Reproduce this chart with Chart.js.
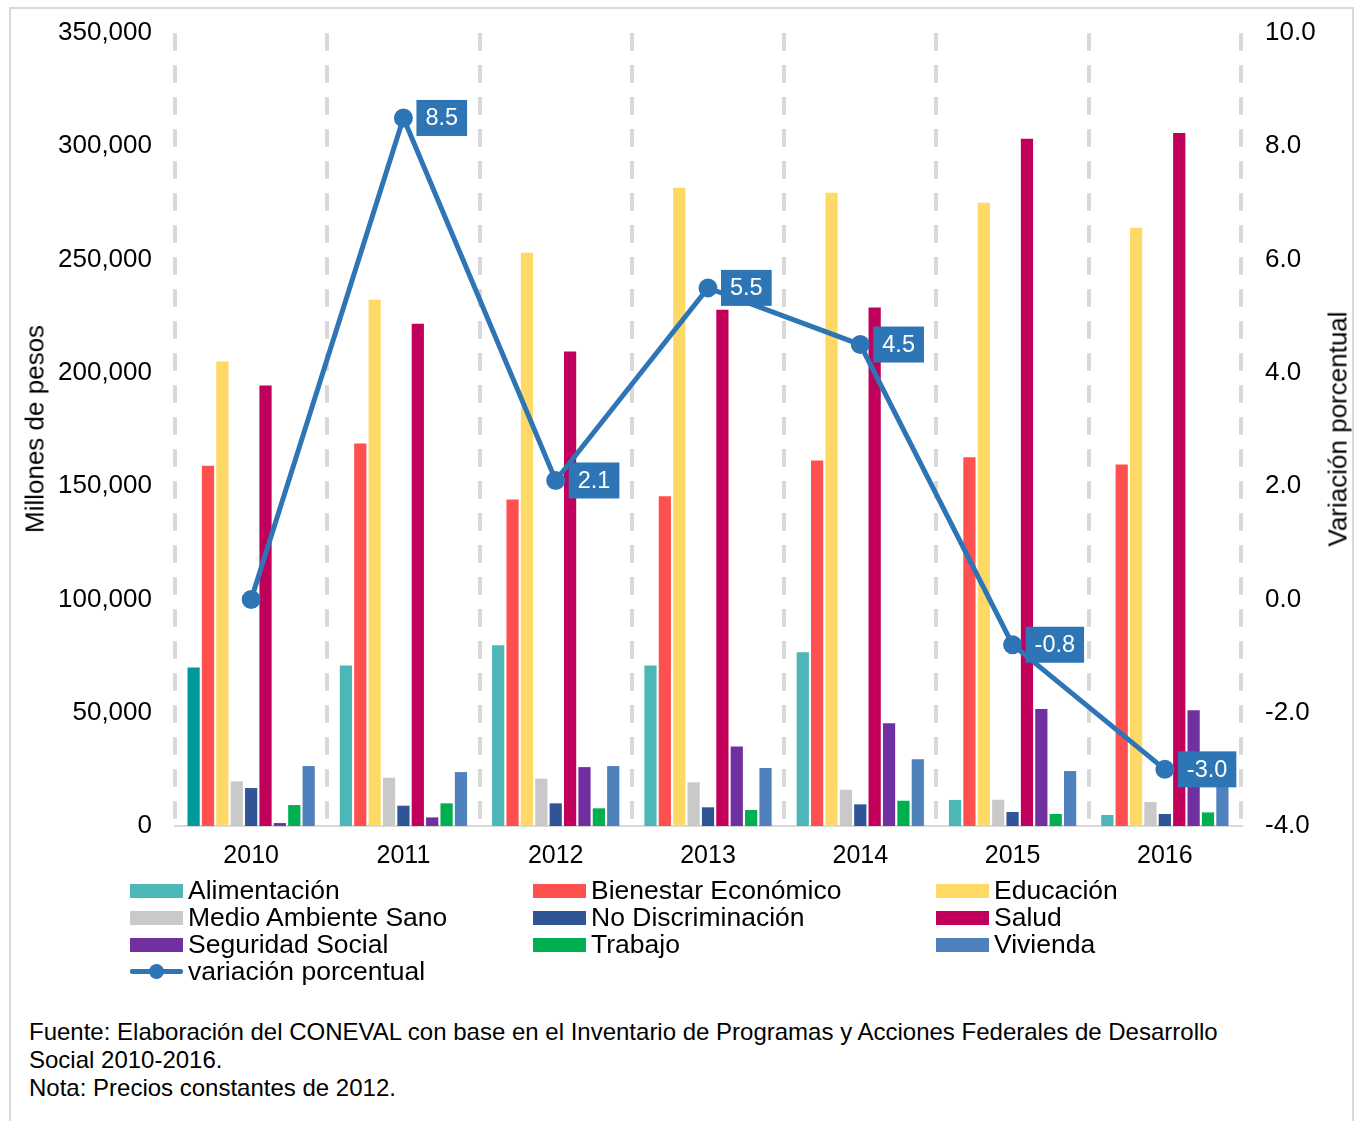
<!DOCTYPE html>
<html><head><meta charset="utf-8">
<script src="https://cdn.jsdelivr.net/npm/chart.js@4"></script>
<style>
html,body{margin:0;padding:0;background:#fff;width:1360px;height:1121px;overflow:hidden;font-family:"Liberation Sans",Arial,sans-serif;}
#frame{position:absolute;left:9px;top:7px;width:1345px;height:1130px;border:2px solid #d9d9d9;box-sizing:border-box;}
#wrap{position:absolute;left:0;top:0;width:1360px;height:880px;}
#legend{position:absolute;left:0;top:877px;width:1360px;height:110px;font-size:26.5px;color:#000;}
.li{position:absolute;height:27px;line-height:27px;white-space:nowrap;}
.sw{position:absolute;left:0;top:7px;width:53px;height:14px;}
.lt{position:absolute;left:58px;top:0;}
#note{position:absolute;left:29px;top:1018px;font-size:24px;line-height:28px;color:#000;white-space:nowrap;}
.ytitle{position:absolute;font-size:26px;color:#000;white-space:nowrap;transform:translate(-50%,-50%) rotate(-90deg);}
</style></head>
<body>
<div id="frame"></div>
<div id="wrap"><canvas id="c" width="1360" height="880"></canvas></div>
<div class="ytitle" style="left:35px;top:429px;">Millones de pesos</div>
<div class="ytitle" style="left:1338px;top:429px;">Variación porcentual</div>
<div id="legend"></div>
<div id="note">Fuente: Elaboración del CONEVAL con base en el Inventario de Programas y Acciones Federales de Desarrollo<br>Social 2010-2016.<br>Nota: Precios constantes de 2012.</div>
<script>
const years = ['2010','2011','2012','2013','2014','2015','2016'];
const alimentacion = [70000, 70800, 79800, 70800, 76700, 11500, 4850];
const bienestar = [159000, 168800, 144100, 145500, 161300, 162700, 159600];
const educacion = [205000, 232300, 253000, 281700, 279500, 275100, 264000];
const medioAmbiente = [19700, 21300, 20900, 19300, 16000, 11600, 10600];
const noDiscriminacion = [16750, 8950, 10000, 8250, 9550, 6200, 5300];
const salud = [194400, 221700, 209400, 227900, 228800, 303300, 305900];
const seguridadSocial = [1300, 3800, 26000, 35100, 45300, 51600, 51100];
const trabajo = [9250, 10000, 7800, 7050, 11150, 5300, 6000];
const vivienda = [26450, 23800, 26450, 25600, 29500, 24250, 25000];
const variacion = [0.0, 8.5, 2.1, 5.5, 4.5, -0.8, -3.0];
const leftTicks = [0, 50000, 100000, 150000, 200000, 250000, 300000, 350000];
const rightTicks = [-4, -2, 0, 2, 4, 6, 8, 10];

const barSeries = [
  {label:'Alimentación', data:alimentacion, color:'#4DB6B6', special:['#009999']},
  {label:'Bienestar Económico', data:bienestar, color:'#FF5050'},
  {label:'Educación', data:educacion, color:'#FFD966'},
  {label:'Medio Ambiente Sano', data:medioAmbiente, color:'#C9C9C9'},
  {label:'No Discriminación', data:noDiscriminacion, color:'#2F5597'},
  {label:'Salud', data:salud, color:'#C0005A'},
  {label:'Seguridad Social', data:seguridadSocial, color:'#7030A0'},
  {label:'Trabajo', data:trabajo, color:'#00B050'},
  {label:'Vivienda', data:vivienda, color:'#4F81BD'}
];
const lineColor = '#2E75B6';

const datasets = barSeries.map(s => ({
  type:'bar', label:s.label, data:s.data,
  backgroundColor: s.special ? s.data.map((v,i)=> i===0 ? s.special[0] : s.color) : s.color,
  borderWidth:0, yAxisID:'y', order:2,
  categoryPercentage:0.85, barPercentage:0.85
}));
datasets.push({
  type:'line', label:'variación porcentual', data:variacion, yAxisID:'y2',
  borderColor:lineColor, backgroundColor:lineColor, borderWidth:5,
  pointRadius:7, pointHoverRadius:7, pointBackgroundColor:lineColor, pointBorderColor:lineColor,
  tension:0, order:0
});

const labelPlugin = {
  id:'boxLabels',
  afterDatasetsDraw(chart){
    const idx = chart.data.datasets.length-1;
    const meta = chart.getDatasetMeta(idx);
    const ctx = chart.ctx;
    ctx.save();
    ctx.font = '23.5px "Liberation Sans", Arial, sans-serif';
    ctx.textBaseline = 'middle';
    ctx.textAlign = 'center';
    meta.data.forEach((pt,i)=>{
      if(i===0) return;
      const txt = variacion[i].toFixed(1);
      const w = ctx.measureText(txt).width + 18;
      const h = 36;
      const x0 = pt.x + 13, y0 = pt.y - h/2;
      ctx.fillStyle = lineColor;
      ctx.fillRect(x0, y0, w, h);
      ctx.fillStyle = '#fff';
      ctx.fillText(txt, x0 + w/2, pt.y + 1);
    });
    ctx.restore();
  }
};

const tickFont = {family:'"Liberation Sans", Arial, sans-serif', size:26};
new Chart(document.getElementById('c'), {
  data:{labels:years, datasets},
  options:{
    responsive:false, animation:false,
    layout:{padding:{top:33, right:0, bottom:0, left:0}},
    plugins:{legend:{display:false}, tooltip:{enabled:false}},
    scales:{
      x:{
        offset:true,
        grid:{display:true, offset:true, color:'#d9d9d9', lineWidth:4, drawTicks:false},
        border:{display:true, color:'#d9d9d9', width:2, dash:[18,14]},
        ticks:{color:'#000', font:{family:'"Liberation Sans", Arial, sans-serif', size:25}, padding:15},
        afterFit(s){ s.height = 54; s.paddingLeft = 0; s.paddingRight = 0; }
      },
      y:{
        position:'left', min:0, max:350000,
        afterBuildTicks(s){ s.ticks = leftTicks.map(v=>({value:v})); },
        grid:{display:false, drawTicks:false},
        border:{display:false},
        ticks:{color:'#000', font:tickFont, padding:23, callback:v=>v.toLocaleString('en-US')},
        afterFit(s){ s.width = 175; s.paddingTop = 0; s.paddingBottom = 0; }
      },
      y2:{
        position:'right', min:-4, max:10,
        afterBuildTicks(s){ s.ticks = rightTicks.map(v=>({value:v})); },
        grid:{display:false, drawTicks:false},
        border:{display:false},
        ticks:{color:'#000', font:tickFont, padding:24, callback:v=>Number(v).toFixed(1)},
        afterFit(s){ s.width = 119; s.paddingTop = 0; s.paddingBottom = 0; }
      }
    }
  },
  plugins:[labelPlugin]
});

// HTML legend
const legend = document.getElementById('legend');
const colsX = [130, 533, 936];
barSeries.forEach((s,i)=>{
  const col = i%3, row = Math.floor(i/3);
  const d = document.createElement('div');
  d.className='li';
  d.style.left = colsX[col]+'px';
  d.style.top = (row*27)+'px';
  d.innerHTML = '<span class="sw" style="background:'+s.color+'"></span><span class="lt">'+s.label+'</span>';
  legend.appendChild(d);
});
const dl = document.createElement('div');
dl.className='li'; dl.style.left='130px'; dl.style.top='81px';
dl.innerHTML = '<span style="position:absolute;left:0;top:11px;width:53px;height:5px;background:'+lineColor+';border-radius:2px"></span><span style="position:absolute;left:19px;top:6px;width:15px;height:15px;border-radius:50%;background:'+lineColor+'"></span><span class="lt">variación porcentual</span>';
legend.appendChild(dl);
</script>
</body></html>
